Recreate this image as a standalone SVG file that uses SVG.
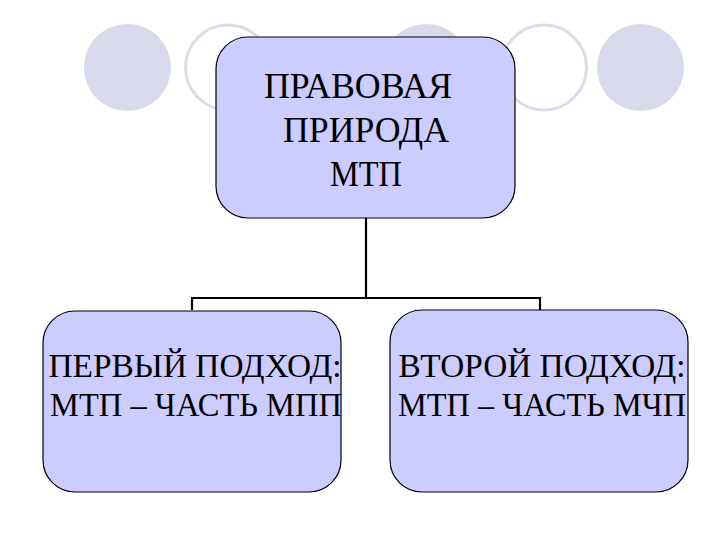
<svg xmlns="http://www.w3.org/2000/svg" width="720" height="540" viewBox="0 0 720 540">
<style>
.dot{fill:#d9d9ec;stroke:none}
.ring{fill:#ffffff;stroke:#dcdce8;stroke-width:3}
.box{fill:#ccccff;stroke:#000000;stroke-width:1.2}
.lbl{font-family:"Liberation Serif","Times New Roman",serif;fill:#000000;text-anchor:middle}
.conn{fill:none;stroke:#000000;stroke-width:2.2}
</style>
<rect width="720" height="540" fill="#ffffff"/>
<g id="decor">
<circle class="dot" cx="127.5" cy="67.5" r="43.5"/>
<circle class="ring" cx="228" cy="67.5" r="42.5"/>
<circle class="dot" cx="426" cy="67.5" r="43.5"/>
<circle class="ring" cx="544" cy="67.5" r="42.5"/>
<circle class="dot" cx="640.5" cy="67.5" r="43.5"/>
</g>
<g id="connectors">
<path class="conn" d="M366 218 V298 M192 310 V298 H540 V310"/>
</g>
<g id="root">
<rect class="box" x="216" y="37" width="299" height="181" rx="32" ry="32"/>
<text class="lbl" font-size="35" x="358" y="98" textLength="188" lengthAdjust="spacingAndGlyphs">ПРАВОВАЯ</text>
<text class="lbl" font-size="35" x="366" y="142" textLength="166" lengthAdjust="spacingAndGlyphs">ПРИРОДА</text>
<text class="lbl" font-size="35" x="366" y="186" textLength="72" lengthAdjust="spacingAndGlyphs">МТП</text>
</g>
<g id="first">
<rect class="box" x="43" y="311" width="298" height="181" rx="32" ry="32"/>
<text class="lbl" font-size="34" x="195" y="377" textLength="293" lengthAdjust="spacingAndGlyphs">ПЕРВЫЙ ПОДХОД:</text>
<text class="lbl" font-size="34" x="196" y="416" textLength="292" lengthAdjust="spacingAndGlyphs">МТП – ЧАСТЬ МПП</text>
</g>
<g id="second">
<rect class="box" x="390" y="310" width="298" height="182" rx="32" ry="32"/>
<text class="lbl" font-size="34" x="542" y="377" textLength="287" lengthAdjust="spacingAndGlyphs">ВТОРОЙ ПОДХОД:</text>
<text class="lbl" font-size="34" x="542" y="416" textLength="288" lengthAdjust="spacingAndGlyphs">МТП – ЧАСТЬ МЧП</text>
</g>
</svg>
